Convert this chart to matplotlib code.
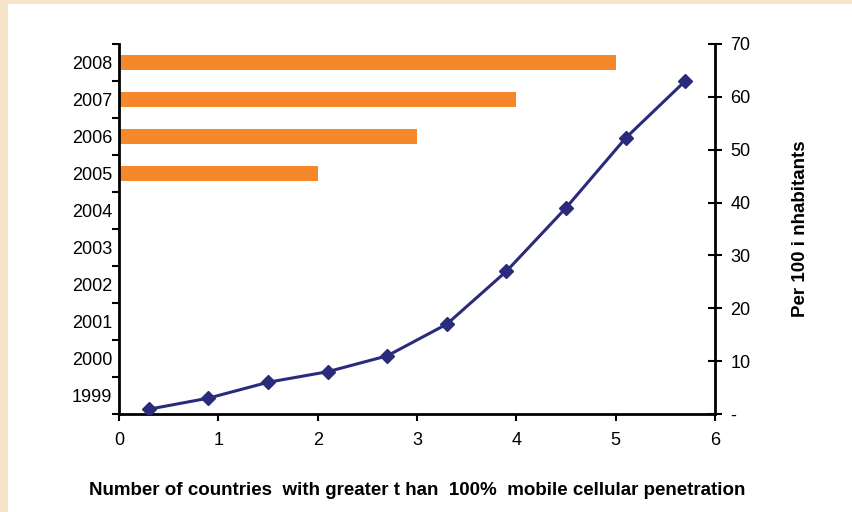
import matplotlib
matplotlib.use("Agg")
import matplotlib.pyplot as plt
from matplotlib.patches import Rectangle

plt.rcParams['font.family'] = ['Liberation Sans', 'DejaVu Sans']

years = ["1999", "2000", "2001", "2002", "2003", "2004", "2005", "2006", "2007", "2008"]
countries_over_100 = [0, 0, 0, 0, 0, 0, 2, 3, 4, 5]
line_x = [0.3, 0.9, 1.5, 2.1, 2.7, 3.3, 3.9, 4.5, 5.1, 5.7]
per_100 = [0.9, 3.0, 6.0, 8.0, 11.0, 17.0, 27.0, 39.0, 52.2, 63.0]
x_ticks = [0, 1, 2, 3, 4, 5, 6]
right_ticks = [0, 10, 20, 30, 40, 50, 60, 70]
right_labels = ["-", "10", "20", "30", "40", "50", "60", "70"]

bar_color = "#F5882A"
line_color = "#2A2B7A"
peach = "#F8E4C8"

fig = plt.figure(figsize=(8.52, 5.12), dpi=100)
fig.patch.set_facecolor("white")
fig.patches.append(Rectangle((0, 1 - 4/512), 1, 4/512, transform=fig.transFigure,
                             facecolor=peach, edgecolor="none", zorder=0))
fig.patches.append(Rectangle((0, 0), 8/852, 1, transform=fig.transFigure,
                             facecolor=peach, edgecolor="none", zorder=0))

ax = fig.add_axes([119/852, 1 - 414/512, (715 - 119)/852, (414 - 44)/512])
ypos = list(range(len(years)))
ax.barh(ypos, countries_over_100, height=0.38, color=bar_color, zorder=2)
ax.set_xlim(0, 6)
ax.set_ylim(-0.5, len(years) - 0.5)
ax.set_xticks(x_ticks)
ax.set_xticklabels([str(t) for t in x_ticks])
ax.set_yticks([i - 0.5 for i in range(len(years) + 1)])
ax.set_yticklabels([])
ax.set_yticks(ypos, minor=True)
ax.set_yticklabels(years, minor=True)
ax.tick_params(axis='y', which='major', direction='out', length=5, width=1.5)
ax.tick_params(axis='y', which='minor', length=0, labelsize=13, pad=5)
ax.tick_params(axis='x', direction='out', length=5, width=1.5, labelsize=13, pad=8)
for s in ['top', 'right']:
    ax.spines[s].set_visible(False)
for s in ['left', 'bottom']:
    ax.spines[s].set_linewidth(2)
ax.set_xlabel("Number of countries  with greater t han  100%  mobile cellular penetration",
              fontsize=13.5, fontweight='bold', labelpad=24)

ax2 = ax.twinx()
ax2.plot(line_x, per_100, color=line_color, linewidth=2.2, marker='D', markersize=7.5,
         markerfacecolor=line_color, markeredgecolor=line_color, zorder=3)
ax2.set_ylim(0, 70)
ax2.set_yticks(right_ticks)
ax2.set_yticklabels(right_labels)
ax2.tick_params(axis='y', direction='inout', length=10, width=1.5, labelsize=13, pad=6)
for s in ['top', 'left', 'bottom']:
    ax2.spines[s].set_visible(False)
ax2.spines['right'].set_linewidth(2)
ax2.set_ylabel("Per 100 i nhabitants", fontsize=13.5, fontweight='bold', labelpad=30)

fig.savefig("out.png", dpi=100)
